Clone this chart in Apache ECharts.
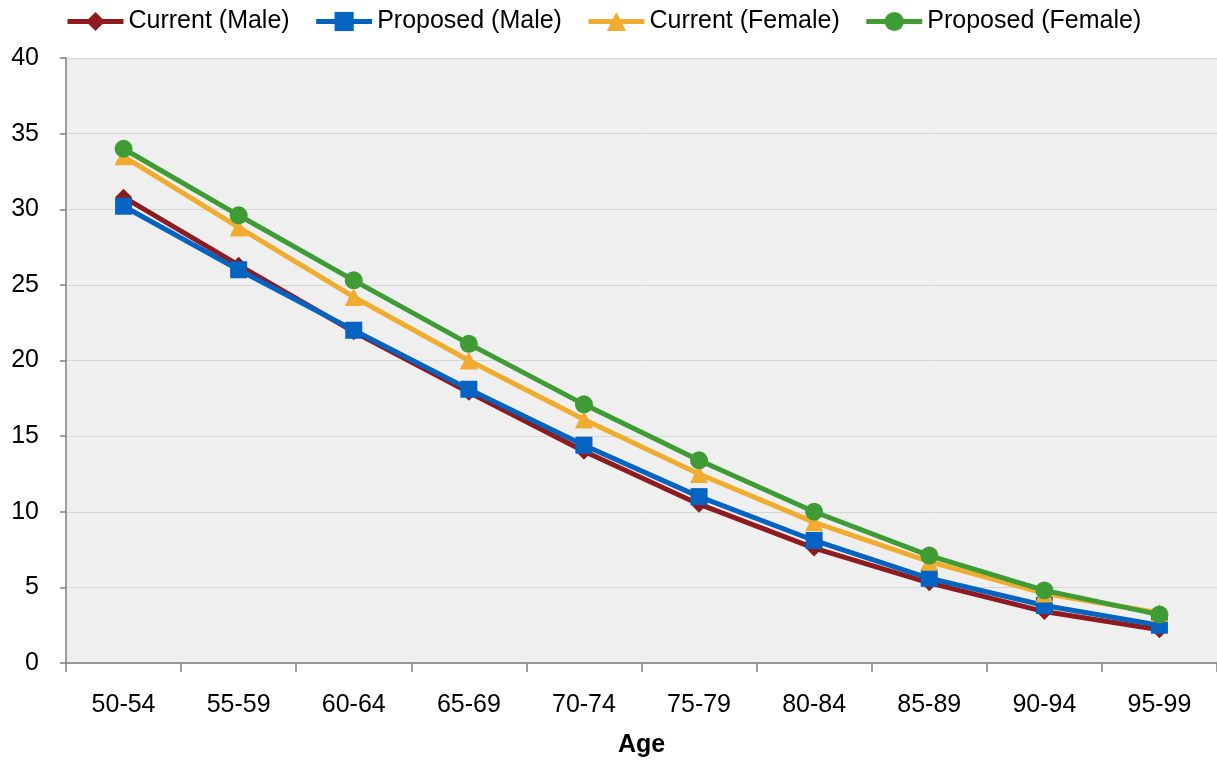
<!DOCTYPE html>
<html>
<head>
<meta charset="utf-8">
<script src="https://cdn.jsdelivr.net/npm/echarts@6/dist/echarts.min.js"></script>
<style>
html,body{margin:0;padding:0;background:#fff;}
#chart{width:1217px;height:763px;}
</style>
</head>
<body>
<div id="chart"></div>
<script>
var categories = ['50-54','55-59','60-64','65-69','70-74','75-79','80-84','85-89','90-94','95-99'];
var currentMale = [30.8, 26.3, 21.9, 17.9, 14.0, 10.5, 7.6, 5.3, 3.4, 2.2];
var proposedMale = [30.2, 26.0, 22.0, 18.1, 14.4, 11.0, 8.1, 5.6, 3.8, 2.5];
var currentFemale = [33.5, 28.8, 24.2, 20.0, 16.1, 12.5, 9.3, 6.7, 4.6, 3.3];
var proposedFemale = [34.0, 29.6, 25.3, 21.1, 17.1, 13.4, 10.0, 7.1, 4.8, 3.2];
var yTicks = {min: 0, max: 40, interval: 5};

var FONT = '"Liberation Sans Narrow", "Arial Narrow", "Liberation Sans", Arial, sans-serif';
function mk(name, data, color, symbol, size) {
  return {
    name: name, type: 'line', data: data,
    symbol: symbol, symbolSize: size,
    lineStyle: {color: color, width: 5},
    itemStyle: {color: color},
    emphasis: {disabled: true},
    animation: false
  };
}
var chart = echarts.init(document.getElementById('chart'));
chart.setOption({
  animation: false,
  legend: {
    top: 4, left: 60,
    itemWidth: 56, itemHeight: 24, itemGap: 24,
    lineStyle: {width: 5},
    textStyle: {fontFamily: FONT, fontSize: 25, color: '#000'},
    data: ['Current (Male)','Proposed (Male)','Current (Female)','Proposed (Female)']
  },
  grid: {left: 66, right: 0, top: 58, bottom: 97, show: true, backgroundColor: '#efefef', borderWidth: 0},
  xAxis: {
    type: 'category', data: categories, boundaryGap: true,
    name: 'Age', nameLocation: 'middle', nameGap: 70,
    nameTextStyle: {fontFamily: FONT, fontSize: 25, fontWeight: 'bold', color: '#000'},
    axisLine: {lineStyle: {color: '#808080', width: 1.5}},
    axisTick: {show: true, length: 9, lineStyle: {color: '#808080', width: 1.5}},
    axisLabel: {fontFamily: FONT, fontSize: 25, color: '#000', margin: 30},
    splitLine: {show: false}
  },
  yAxis: {
    type: 'value', min: yTicks.min, max: yTicks.max, interval: yTicks.interval,
    axisLine: {show: true, lineStyle: {color: '#808080', width: 1.5}},
    axisTick: {show: true, length: 6, lineStyle: {color: '#808080', width: 1.5}},
    axisLabel: {fontFamily: FONT, fontSize: 25, color: '#000', margin: 27},
    splitLine: {lineStyle: {color: '#d6d6d6', width: 1}}
  },
  series: [
    mk('Current (Male)', currentMale, '#8e1b1f', 'diamond', 17),
    mk('Proposed (Male)', proposedMale, '#0563c1', 'rect', 17),
    mk('Current (Female)', currentFemale, '#f0ac2e', 'triangle', 18),
    mk('Proposed (Female)', proposedFemale, '#3f9c35', 'circle', 18)
  ]
});
</script>
</body>
</html>
